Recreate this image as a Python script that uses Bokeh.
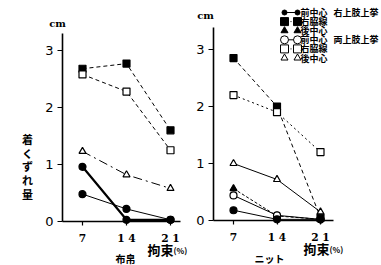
from bokeh.plotting import figure
from bokeh.layouts import row
from bokeh.models import Range1d, Label, FixedTicker
from bokeh.embed import file_html
from bokeh.resources import INLINE

# restraint level (%) on the x axis
restraint = [7, 14, 21]
tick_labels = {7: "7", 14: "1 4", 21: "2 1"}
y_ticks = [0, 1, 2, 3]

# woven fabric (布帛): displacement in cm
woven_sq_filled = [2.68, 2.77, 1.60]
woven_sq_open = [2.58, 2.28, 1.25]
woven_tri_open = [1.23, 0.82, 0.58]
woven_circ_bold = [0.96, 0.03, 0.03]
woven_circ_thin = [0.48, 0.22, 0.03]

# knit (ニット)
knit_sq_filled = [2.85, 2.00, 0.05]
knit_sq_open = [2.20, 1.90, 1.20]
knit_tri_open = [1.00, 0.72, 0.15]
knit_tri_filled = [0.56, 0.08, 0.02]
knit_circ_open = [0.44, 0.09, 0.02]
knit_circ_filled = [0.18, 0.02, 0.02]

legend_rows = [
    ("circle", True, "solid", "前中心", "右上肢上挙"),
    ("square", True, "dotted", "右脇線", ""),
    ("triangle", True, None, "後中心", ""),
    ("circle", False, "solid", "前中心", "両上肢上挙"),
    ("square", False, "dotted", "右脇線", ""),
    ("triangle", False, None, "後中心", ""),
]

JP = "Noto Sans CJK JP"
H = 265
PX_PER_CM = 57.0


def make_panel(width, axis_px, x7_px, px_per_unit, zero_px, axis_top_px, axis_right_px):
    """One panel whose frame fills the whole canvas; axes sit at fixed locations."""
    x_start = 7 - x7_px / px_per_unit
    x_end = x_start + width / px_per_unit
    y_start = -(H - zero_px) / PX_PER_CM
    y_end = zero_px / PX_PER_CM

    def to_x(px):
        return x_start + px / px_per_unit

    def to_y(py):
        return (zero_px - py) / PX_PER_CM

    p = figure(width=width, height=H, output_backend="svg", toolbar_location=None,
               x_range=Range1d(x_start, x_end), y_range=Range1d(y_start, y_end),
               min_border=0)
    p.outline_line_color = None
    p.grid.visible = False

    xa = p.xaxis[0]
    xa.fixed_location = 0
    xa.bounds = (to_x(axis_px), to_x(axis_right_px))
    xa.ticker = FixedTicker(ticks=restraint)
    xa.major_label_overrides = tick_labels
    xa.minor_tick_line_color = None
    xa.major_tick_in = 0
    xa.major_tick_out = 4
    xa.axis_line_width = 1.6
    xa.major_tick_line_width = 1.2
    xa.major_label_standoff = 6
    xa.major_label_text_font = "DejaVu Serif"
    xa.major_label_text_font_style = "bold"
    xa.major_label_text_font_size = "8pt"
    xa.major_label_text_color = "black"

    ya = p.yaxis[0]
    ya.fixed_location = to_x(axis_px)
    ya.bounds = (0, to_y(axis_top_px))
    ya.ticker = FixedTicker(ticks=y_ticks)
    ya.minor_tick_line_color = None
    ya.major_tick_in = 0
    ya.major_tick_out = 5
    ya.axis_line_width = 1.6
    ya.major_tick_line_width = 1.2
    ya.major_label_standoff = 4
    ya.major_label_text_font = "DejaVu Sans"
    ya.major_label_text_font_size = "13px"
    ya.major_label_text_color = "black"
    return p, to_x, to_y


def series(p, ys, marker, filled, dash="solid", width=1.0, size=7):
    p.line(restraint, ys, line_color="black", line_width=width, line_dash=dash)
    p.scatter(restraint, ys, marker=marker, size=size, line_color="black", line_width=1.2,
              fill_color="black" if filled else "white")


def label(p, x, y, text, size="9px", font=JP, style="bold", align="left",
          baseline="middle", line_height=1.2):
    p.add_layout(Label(x=x, y=y, text=text, text_font=font, text_font_size=size,
                       text_font_style=style, text_align=align, text_baseline=baseline,
                       text_line_height=line_height, text_color="black"))


# ---- woven fabric panel ----
left, lx, ly = make_panel(190, 62, 82, 44 / 7, 221, 33, 180)
series(left, woven_sq_filled, "square", True, dash="4 3")
series(left, woven_sq_open, "square", False, dash="4 3")
series(left, woven_tri_open, "triangle", False, dash="9 4 2 4")
series(left, woven_circ_thin, "circle", True)
series(left, woven_circ_bold, "circle", True, width=2.2)
label(left, lx(57), ly(23), "cm", size="10px", font="DejaVu Serif", align="center")
label(left, lx(27), ly(166), "着\nく\nず\nれ\n量", size="11px", align="center", line_height=0.85)
label(left, lx(147), ly(249), "拘束", size="13px")
label(left, lx(173), ly(250), "(%)", size="8px")
label(left, lx(125), ly(258), "布帛", size="10px", align="center")

# ---- knit panel ----
right, rx, ry = make_panel(191, 23, 43, 43.5 / 7, 220, 27, 143)
series(right, knit_sq_filled, "square", True, dash="4 3")
series(right, knit_sq_open, "square", False, dash="2 3")
series(right, knit_tri_open, "triangle", False)
series(right, knit_tri_filled, "triangle", True, dash="3 2")
series(right, knit_circ_open, "circle", False)
series(right, knit_circ_filled, "circle", True)
label(right, rx(15), ry(15), "cm", size="10px", font="DejaVu Serif", align="center")
label(right, rx(113), ry(248), "拘束", size="13px")
label(right, rx(139), ry(249), "(%)", size="8px")
label(right, rx(79), ry(258), "ニット", size="10px", align="center")

# legend block
row_y0, row_dy = 12, 9.1
for i, (mk, filled, dash, name, group) in enumerate(legend_rows):
    yy = ry(row_y0 + i * row_dy)
    xa, xb = rx(94), rx(107)
    if dash is not None:
        right.line([xa, xb], [yy, yy], line_color="black", line_width=1,
                   line_dash="solid" if dash == "solid" else "1 2")
    sz = 5 if (mk == "circle" and filled) else 8
    if mk == "triangle":
        sz = 7
    right.scatter([xa, xb], [yy, yy], marker=mk, size=sz, line_color="black",
                  fill_color="black" if filled else "white", line_width=1)
    label(right, rx(110), yy, name, size="9px")
    if group:
        label(right, rx(143), yy, group, size="9px")

layout = row(left, right)
open("out.html", "w").write(file_html(layout, INLINE))
